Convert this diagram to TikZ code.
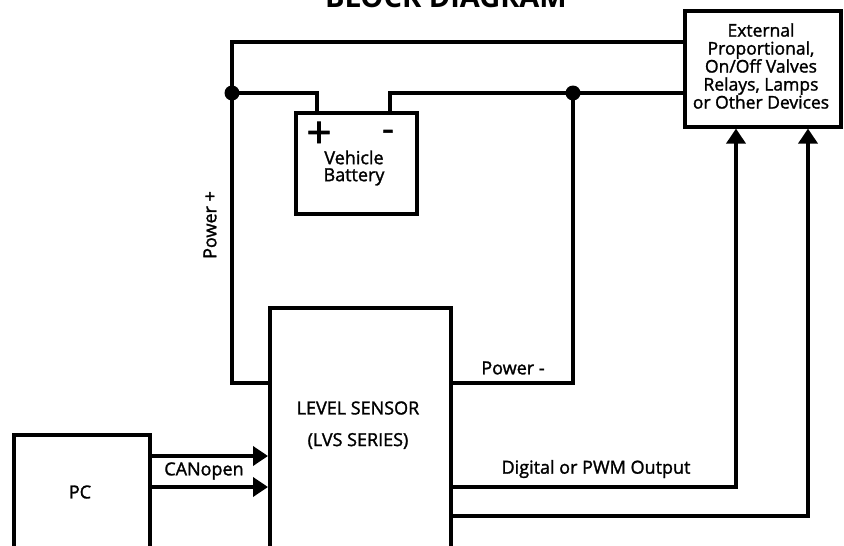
\documentclass[tikz,border=0pt]{standalone}
\usepackage{fontspec}
\setmainfont{Open Sans}
\newfontfamily\heavy{Open Sans}[FakeBold=1.5]
\usetikzlibrary{arrows.meta}
\begin{document}
\begin{tikzpicture}[x=1pt,y=-1pt,
  wire/.style={line width=3.6pt},
  box/.style={draw,line width=3.6pt,rectangle,inner sep=0pt},
  lbl/.style={font=\heavy\fontsize{18}{20}\selectfont},
  arr/.style={wire,-{Triangle[length=15pt,width=19pt]}},
  dot/.style={circle,fill,inner sep=0pt,minimum size=15pt}]
\useasboundingbox (0,0) rectangle (844,546);
\clip (0,0) rectangle (844,546);
% title (cut off at top)
\node[anchor=base,font=\bfseries\fontsize{29}{31}\selectfont] (title) at (446,8) {BLOCK DIAGRAM};
% boxes
\node[box,minimum width=121pt,minimum height=101pt,anchor=north west] (bat) at (294,111) {};
\node[box,minimum width=156pt,minimum height=116pt,anchor=north west] (ext) at (683,9) {};
\node[box,minimum width=181pt,minimum height=260pt,anchor=north west] (ls) at (268,306) {};
\node[box,minimum width=136pt,minimum height=130pt,anchor=north west] (pc) at (12,433) {};
% texts
\node[anchor=base,font=\heavy\fontsize{44}{44}\selectfont] (plus) at (319,148) {+};
\node[anchor=base,font=\heavy\fontsize{36}{36}\selectfont] (minus) at (388,141) {-};
\node[lbl,align=center] (battxt) at (354,168) {Vehicle\\[-3pt]Battery};
\node[font=\heavy\fontsize{17.5}{18}\selectfont,align=center] (exttxt) at (761,66) {External\\Proportional,\\On/Off Valves\\Relays, Lamps\\or Other Devices};
\node[lbl] (ls1) at (358,408) {LEVEL SENSOR};
\node[lbl] (ls2) at (358,441) {(LVS SERIES)};
\node[lbl] (pctxt) at (80,492) {PC};
\node[lbl] (canlbl) at (204,471) {CANopen};
\node[lbl] (pwrm) at (513,368) {Power -};
\node[lbl] (dig) at (596,469) {Digital or PWM Output};
\node[lbl,rotate=90] (pwrp) at (210,225) {Power +};
% junctions
\coordinate (j1) at (232,93);
\coordinate (j2) at (573,93);
\coordinate (tp) at (317,111);
\coordinate (tm) at (390,111);
% wires
\draw[wire] (ext.west |- 0,42) -- (232,42) -- (j1) -- (232,383) -- (ls.west |- 0,383);
\draw[wire] (j1) -- (tp |- j1) -- (tp);
\draw[wire] (tm) -- (tm |- j2) -- (j2) -- (ext.west |- j2);
\draw[wire] (j2) -- (573,383) -- (ls.east |- 0,383);
\node[dot] (d1) at (j1) {};
\node[dot] (d2) at (j2) {};
% CANopen
\draw[arr] (pc.east |- 0,456) -- (ls.west |- 0,456);
\draw[arr] (pc.east |- 0,487) -- (ls.west |- 0,487);
% outputs
\draw[arr] (ls.east |- 0,487) -- (736,487) -- (736,0 |- ext.south);
\draw[arr] (ls.east |- 0,516) -- (808,516) -- (808,0 |- ext.south);
\end{tikzpicture}
\end{document}
